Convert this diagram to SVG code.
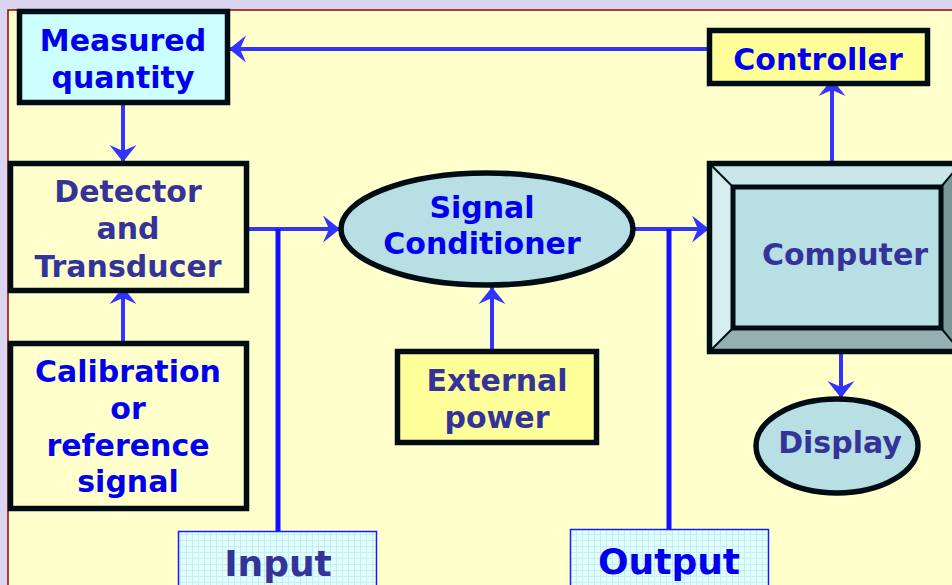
<svg xmlns="http://www.w3.org/2000/svg" width="952" height="585" viewBox="0 0 952 585">
<defs>
<style>
.t{font-family:"DejaVu Sans",Verdana,sans-serif;font-weight:bold;font-size:30px;text-anchor:middle}
.b{fill:#0000ee}
.d{fill:#333399}
.big{font-size:36px}
.box{stroke:#000c14;stroke-width:5.5}
.c{stroke:#3333ff;stroke-width:4;fill:none}
.v{stroke:#1111ff;stroke-width:5;fill:none}
</style>
<marker id="ah" markerUnits="userSpaceOnUse" markerWidth="20" markerHeight="30" viewBox="-18 -15 20 30" refX="0" refY="0" orient="auto">
<path d="M0,0 L-17,-13.5 L-11,0 L-17,13.5 Z" fill="#3333ff"/>
</marker>
<pattern id="grid" width="6" height="6" patternUnits="userSpaceOnUse">
<rect width="6" height="6" fill="#e2ffff"/>
<path d="M0,0.5H6M0.5,0V6" stroke="#c6eef0" stroke-width="1"/>
</pattern>
</defs>
<rect width="952" height="585" fill="#dad6f0"/>
<rect x="8" y="10" width="950" height="580" fill="#ffffcc" stroke="#990000" stroke-width="1.5"/>

<g id="connectors">
<path class="c" d="M710,49 H229" marker-end="url(#ah)"/>
<path class="c" d="M123,97 V162" marker-end="url(#ah)"/>
<path class="c" d="M123,342 V287" marker-end="url(#ah)"/>
<path class="c" d="M247,229 H340" marker-end="url(#ah)"/>
<path class="v" d="M278,229 V531"/>
<path class="c" d="M492,350 V287" marker-end="url(#ah)"/>
<path class="c" d="M634,229 H709" marker-end="url(#ah)"/>
<path class="v" d="M669,229 V530"/>
<path class="c" d="M832,162 V79" marker-end="url(#ah)"/>
<path class="c" d="M841,352 V398" marker-end="url(#ah)"/>
</g>

<g id="measured">
<rect class="box" x="19.5" y="11.5" width="208" height="91" fill="#ccffff"/>
<text class="t b" x="123" y="51">Measured</text>
<text class="t b" x="123" y="88">quantity</text>
</g>

<g id="detector">
<rect class="box" x="10.5" y="163.5" width="236" height="127" fill="#ffffcc"/>
<text class="t d" x="128" y="202">Detector</text>
<text class="t d" x="128" y="239">and</text>
<text class="t d" x="128" y="277">Transducer</text>
</g>

<g id="calibration">
<rect class="box" x="10.5" y="343.5" width="236" height="165" fill="#ffffcc"/>
<text class="t b" x="128" y="382">Calibration</text>
<text class="t b" x="128" y="419">or</text>
<text class="t b" x="128" y="456">reference</text>
<text class="t b" x="128" y="492">signal</text>
</g>

<g id="signal-conditioner">
<ellipse class="box" cx="487" cy="229" rx="146" ry="56" fill="#b8dfe3"/>
<text class="t b" x="482" y="218">Signal</text>
<text class="t b" x="482" y="254">Conditioner</text>
</g>

<g id="external-power">
<rect class="box" x="397.5" y="351.5" width="199" height="91" fill="#ffff99"/>
<text class="t d" x="497" y="391">External</text>
<text class="t d" x="497" y="428">power</text>
</g>

<g id="computer">
<rect x="709" y="163" width="252" height="189" fill="#b8dfe3"/>
<polygon points="709,163 961,163 941,187 733,187" fill="#c9e6ea"/>
<polygon points="709,163 733,187 733,328 709,352" fill="#d6eef0"/>
<polygon points="709,352 733,328 941,328 961,352" fill="#94b0b4"/>
<polygon points="961,163 941,187 941,328 961,352" fill="#7a9698"/>
<path d="M709,163 L733,187 M941,187 L961,163 M733,328 L709,352 M941,328 L961,352" stroke="#000c14" stroke-width="2"/>
<rect x="733" y="187" width="208" height="141" fill="none" stroke="#000c14" stroke-width="5"/>
<rect class="box" x="709.5" y="163.5" width="252" height="188" fill="none"/>
<text class="t d" x="845" y="265">Computer</text>
</g>

<g id="controller">
<rect class="box" x="709.5" y="30.5" width="218" height="53" fill="#ffff99"/>
<text class="t b" x="818" y="70">Controller</text>
</g>

<g id="display">
<ellipse class="box" cx="837" cy="446" rx="81" ry="47" fill="#b8dfe3"/>
<text class="t d" x="840" y="453">Display</text>
</g>

<g id="input">
<rect x="178.5" y="531.5" width="198" height="60" fill="url(#grid)" stroke="#1a1aff" stroke-width="1.5"/>
<text class="t d big" x="278" y="576">Input</text>
</g>

<g id="output">
<rect x="570.5" y="529.5" width="198" height="60" fill="url(#grid)" stroke="#1a1aff" stroke-width="1.5"/>
<text class="t b big" x="669" y="574">Output</text>
</g>
</svg>
